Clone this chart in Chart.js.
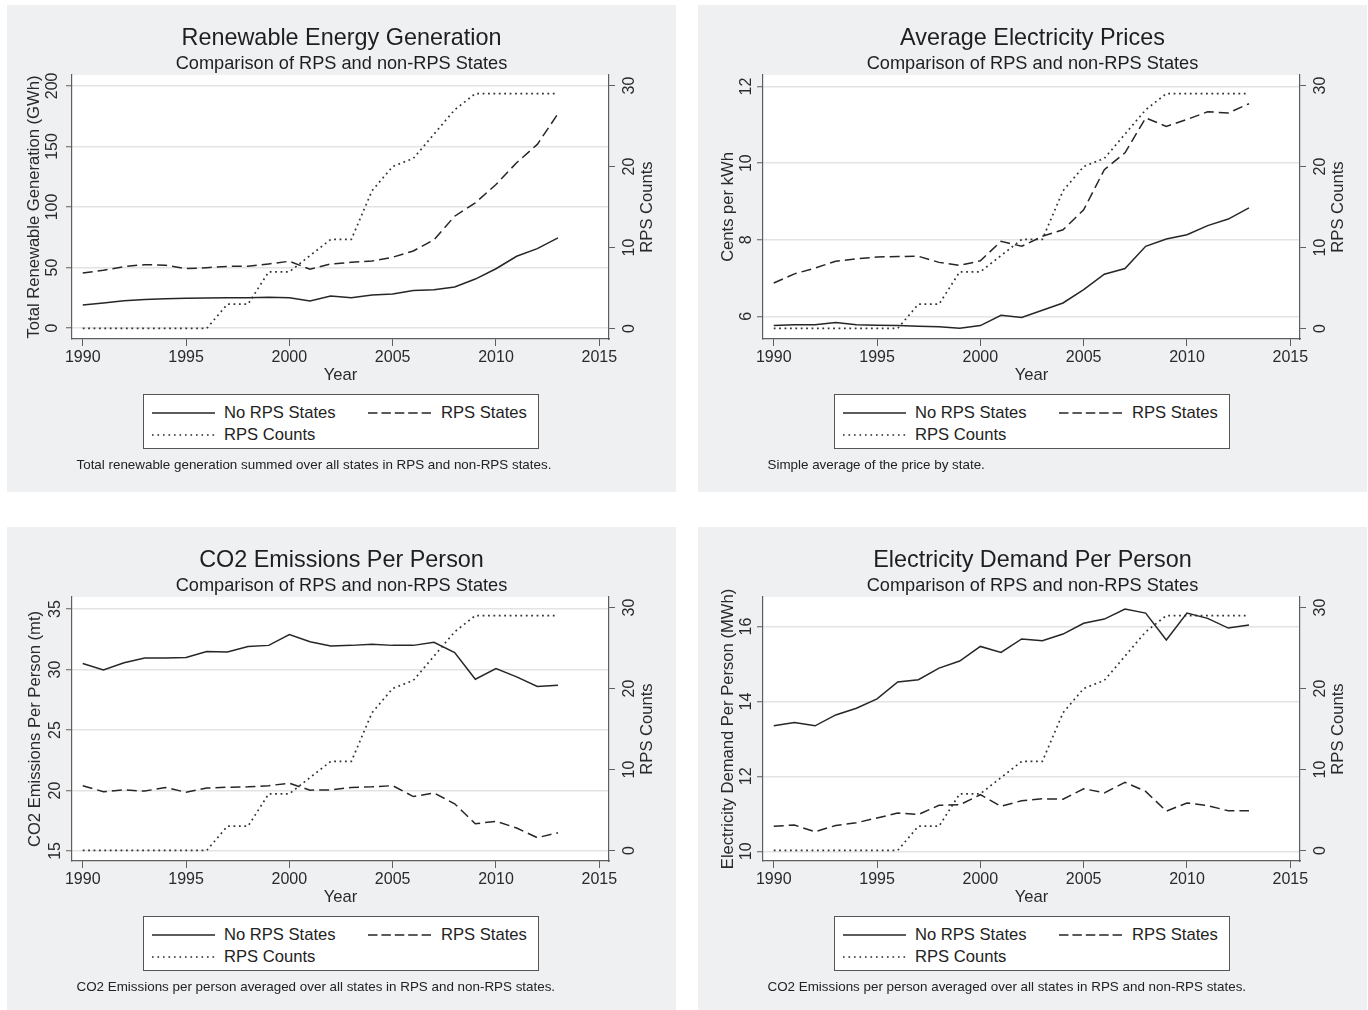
<!DOCTYPE html>
<html>
<head>
<meta charset="utf-8">
<script src="https://cdn.jsdelivr.net/npm/chart.js@4.4.1/dist/chart.umd.min.js"></script>
<style>
html,body{margin:0;padding:0;background:#fff;width:1368px;height:1010px;overflow:hidden;}
body{position:relative;font-family:"Liberation Sans",Arial,Helvetica,sans-serif;color:#222;}
.panel{position:absolute;width:669px;height:487px;background:#eef0f2;overflow:hidden;}
.panel canvas{position:absolute;left:0;top:0;}
.ttl{position:absolute;left:0;width:669px;text-align:center;white-space:nowrap;color:#1e1e1e;}
.ttl.main{font-size:23.4px;height:28px;line-height:28px;top:18px;}
.ttl.sub{font-size:18.2px;height:22px;line-height:22px;top:46.5px;}
.legend{position:absolute;left:135.5px;top:389px;width:396px;height:55px;box-sizing:border-box;border:1.3px solid #555;background:#fff;}
.legend .item{position:absolute;height:20px;line-height:20px;font-size:16.6px;white-space:nowrap;color:#222;}
.legend svg{position:absolute;}
.caption{position:absolute;left:69.5px;top:452px;height:16px;line-height:16px;font-size:13.4px;white-space:nowrap;color:#222;}
</style>
</head>
<body>
<script>
// ---------------- data ----------------
const years = [1990,1991,1992,1993,1994,1995,1996,1997,1998,1999,2000,2001,2002,2003,2004,2005,2006,2007,2008,2009,2010,2011,2012,2013];
const rpsCounts = [0,0,0,0,0,0,0,3,3,7,7,9,11,11,17,20,21,24,27,29,29,29,29,29];

const renewNoRps = [19,20.7,22.5,23.7,24.3,24.6,24.8,25,25,25.4,25,22.3,26.5,25,27.3,28.1,31,31.7,34,40.5,49,59.3,65.6,74.5];
const renewRps   = [45.5,47.7,50.8,52.4,51.9,49.1,49.9,51,51,53,55.2,48.6,53,54.3,55.4,58.5,63.7,73,92.4,103.4,118.6,136.6,151.7,177];

const priceNoRps = [5.76,5.78,5.78,5.84,5.78,5.77,5.76,5.74,5.73,5.69,5.76,6.03,5.97,6.16,6.35,6.7,7.1,7.25,7.83,8.02,8.13,8.37,8.54,8.83];
const priceRps   = [6.87,7.11,7.26,7.44,7.5,7.55,7.56,7.57,7.41,7.33,7.45,7.96,7.83,8.09,8.26,8.78,9.83,10.27,11.18,10.96,11.14,11.34,11.31,11.55];

const co2NoRps = [30.5,29.97,30.57,30.96,30.96,31.0,31.5,31.45,31.9,32.0,32.9,32.3,31.95,32.0,32.1,32.0,32.0,32.25,31.4,29.2,30.08,29.4,28.6,28.7];
const co2Rps   = [20.4,19.9,20.05,19.95,20.25,19.85,20.2,20.27,20.3,20.4,20.6,20.03,20.05,20.25,20.3,20.4,19.5,19.8,18.9,17.25,17.45,16.9,16.1,16.5];

const demandNoRps = [13.35,13.44,13.35,13.64,13.82,14.07,14.52,14.58,14.89,15.08,15.47,15.31,15.67,15.62,15.8,16.09,16.2,16.47,16.36,15.64,16.36,16.22,15.96,16.04];
const demandRps   = [10.67,10.7,10.52,10.69,10.76,10.89,11.02,10.98,11.23,11.24,11.51,11.2,11.35,11.4,11.39,11.67,11.56,11.84,11.6,11.07,11.29,11.22,11.08,11.08];

const yearTicks   = [1990,1995,2000,2005,2010,2015];
const countTicks  = [0,10,20,30];
const renewTicks  = [0,50,100,150,200];
const priceTicks  = [6,8,10,12];
const co2Ticks    = [15,20,25,30,35];
const demandTicks = [10,12,14,16];

const seriesLabels = ['No RPS States','RPS States','RPS Counts'];
const subtitleText = 'Comparison of RPS and non-RPS States';
const xTitle = 'Year';
const countTitle = 'RPS Counts';

// ---------------- panels ----------------
const FONT = '"Liberation Sans", Arial, Helvetica, sans-serif';
Chart.defaults.font.family = FONT;

const panels = [
  {left:7, top:5, title:'Renewable Energy Generation', yTitle:'Total Renewable Generation (GWh)',
   noRps:renewNoRps, rps:renewRps, yTicks:renewTicks, yMin:-9, yMax:209, yPad:0, yTitleX:27,
   caption:'Total renewable generation summed over all states in RPS and non-RPS states.'},
  {left:698, top:5, title:'Average Electricity Prices', yTitle:'Cents per kWh',
   noRps:priceNoRps, rps:priceRps, yTicks:priceTicks, yMin:5.41, yMax:12.3, yPad:2, yTitleX:30,
   caption:'Simple average of the price by state.'},
  {left:7, top:527, title:'CO2 Emissions Per Person', yTitle:'CO2 Emissions Per Person (mt)',
   noRps:co2NoRps, rps:co2Rps, yTicks:co2Ticks, yMin:14.17, yMax:36.0, yPad:2, yTitleX:28,
   caption:'CO2 Emissions per person averaged over all states in RPS and non-RPS states.'},
  {left:698, top:527, title:'Electricity Demand Per Person', yTitle:'Electricity Demand Per Person (MWh)',
   noRps:demandNoRps, rps:demandRps, yTicks:demandTicks, yMin:9.74, yMax:16.79, yPad:2, yTitleX:30,
   caption:'CO2 Emissions per person averaged over all states in RPS and non-RPS states.'}
];

const LINE = '#262626';
const AXIS = '#5e5e5e';
const TXT = '#2a2a2a';

const whiteArea = {
  id:'whiteArea',
  beforeDraw(chart){
    const a = chart.chartArea, c = chart.ctx;
    c.save(); c.fillStyle = '#ffffff';
    c.fillRect(a.left, a.top, a.right - a.left, a.bottom - a.top);
    c.restore();
  }
};
const rightTitle = {
  id:'rightTitle',
  afterDraw(chart){
    const a = chart.chartArea, c = chart.ctx;
    c.save();
    c.translate(640, (a.top + a.bottom) / 2);
    c.rotate(-Math.PI / 2);
    c.font = '16.6px ' + FONT;
    c.fillStyle = TXT;
    c.textAlign = 'center';
    c.textBaseline = 'middle';
    c.fillText(countTitle, 0, 0);
    c.restore();
  }
};

function pts(vals){ return years.map((yr, i) => ({x: yr, y: vals[i]})); }

function legendHTML(){
  const s = [
    {x:8,  y:17.7, dash:'',        w:1.5, label:seriesLabels[0], tx:80.5},
    {x:224, y:17.7, dash:'9.5 3.9', w:1.5, label:seriesLabels[1], tx:297.5},
    {x:8,  y:40.3, dash:'1.6 3.9', w:1.5, label:seriesLabels[2], tx:80.5}
  ];
  let h = '';
  s.forEach(o => {
    h += '<svg width="64" height="6" style="left:' + o.x + 'px;top:' + (o.y - 3) + 'px">' +
         '<line x1="0" y1="3" x2="63" y2="3" stroke="' + LINE + '" stroke-width="' + o.w + '"' +
         (o.dash ? ' stroke-dasharray="' + o.dash + '"' : '') + '/></svg>';
    h += '<div class="item" style="left:' + o.tx + 'px;top:' + (o.y - 10) + 'px">' + o.label + '</div>';
  });
  return h;
}

panels.forEach((p, i) => {
  const div = document.createElement('div');
  div.className = 'panel';
  div.style.left = p.left + 'px';
  div.style.top = p.top + 'px';
  div.innerHTML =
    '<canvas id="c' + i + '" width="669" height="487"></canvas>' +
    '<div class="ttl main">' + p.title + '</div>' +
    '<div class="ttl sub">' + subtitleText + '</div>' +
    '<div class="legend">' + legendHTML() + '</div>' +
    '<div class="caption">' + p.caption + '</div>';
  document.body.appendChild(div);

  new Chart(document.getElementById('c' + i), {
    type: 'line',
    data: {
      datasets: [
        {label: seriesLabels[0], data: pts(p.noRps), yAxisID: 'y', borderColor: LINE, borderWidth: 1.5,
         pointRadius: 0, tension: 0, fill: false},
        {label: seriesLabels[1], data: pts(p.rps), yAxisID: 'y', borderColor: LINE, borderWidth: 1.5,
         borderDash: [10, 5], pointRadius: 0, tension: 0, fill: false},
        {label: seriesLabels[2], data: pts(rpsCounts), yAxisID: 'y2', borderColor: '#333', borderWidth: 1.7,
         borderDash: [1.8, 3.6], pointRadius: 0, tension: 0, fill: false}
      ]
    },
    options: {
      responsive: false, animation: false, devicePixelRatio: 1,
      layout: {padding: {left: 0, top: 70, right: 17, bottom: 103}},
      plugins: {legend: {display: false}, tooltip: {enabled: false}, title: {display: false}},
      scales: {
        x: {
          type: 'linear', position: 'bottom', min: 1989.48, max: 2015.47,
          afterBuildTicks: s => { s.ticks = yearTicks.map(v => ({value: v})); },
          afterFit: s => { s.height = 50; },
          ticks: {callback: v => String(v), font: {size: 16}, color: TXT, padding: 2, minRotation: 0, maxRotation: 0, autoSkip: false},
          grid: {drawOnChartArea: false, drawTicks: true, tickLength: 7, tickColor: AXIS, tickWidth: 1},
          border: {display: true, color: AXIS, width: 1.2},
          title: {display: true, text: xTitle, font: {size: 16.6}, color: TXT, padding: {top: 0, bottom: 4}}
        },
        y: {
          type: 'linear', position: 'left', min: p.yMin, max: p.yMax,
          afterBuildTicks: s => { s.ticks = p.yTicks.map(v => ({value: v})); },
          afterFit: s => { s.width = 65; },
          ticks: {callback: v => String(v), font: {size: 16}, color: TXT, padding: p.yPad, minRotation: 90, maxRotation: 90, crossAlign: 'center', autoSkip: false},
          grid: {color: '#e3e3e3', lineWidth: 1.5, drawTicks: true, tickLength: 6, tickColor: AXIS, tickWidth: 1},
          border: {display: true, color: AXIS, width: 1.2},
          title: {display: true, text: p.yTitle, font: {size: 16.6}, color: TXT, padding: {top: p.yTitleX - 9.96, bottom: 0}}
        },
        y2: {
          type: 'linear', position: 'right', min: -1.3, max: 31.3,
          afterBuildTicks: s => { s.ticks = countTicks.map(v => ({value: v})); },
          afterFit: s => { s.width = 50; },
          ticks: {callback: v => String(v), font: {size: 16}, color: TXT, padding: 5.4, minRotation: 90, maxRotation: 90, crossAlign: 'center', autoSkip: false},
          grid: {drawOnChartArea: false, drawTicks: true, tickLength: 6, tickColor: AXIS, tickWidth: 1},
          border: {display: true, color: AXIS, width: 1.2},
          title: {display: false}
        }
      }
    },
    plugins: [whiteArea, rightTitle]
  });
});
</script>
</body>
</html>
